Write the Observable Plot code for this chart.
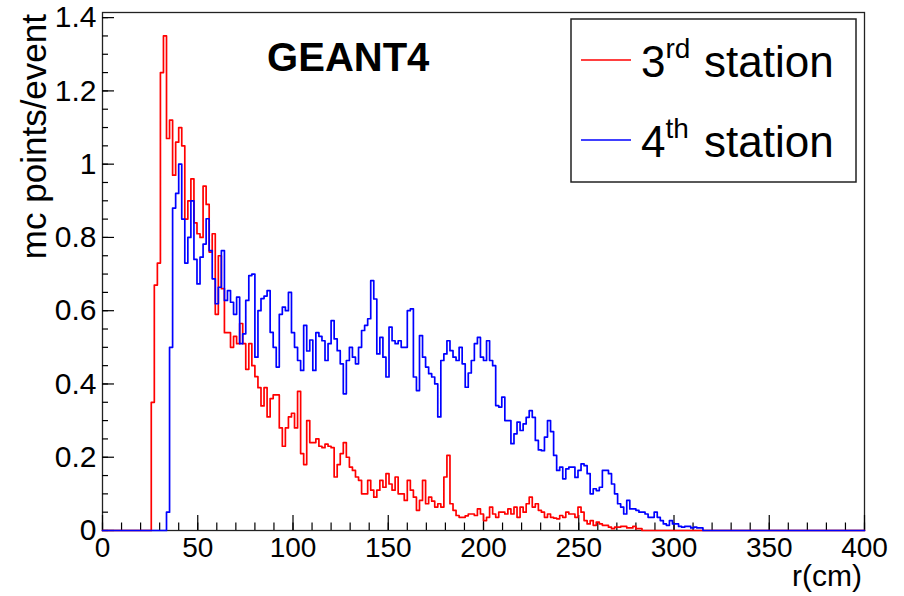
<!DOCTYPE html>
<html><head><meta charset="utf-8">
<script src="https://cdn.jsdelivr.net/npm/d3@7"></script>
<script src="https://cdn.jsdelivr.net/npm/@observablehq/plot@0.6"></script>
<style>
body{margin:0;background:#fff;}
#chart{width:904px;height:596px;}
</style>
</head><body><div id="chart"></div>
<script>
// Histogram binning (cm)
const binWidth = 1.6;
const rMax = 400;

// 3rd station: bin contents starting at bin index 16 (r = 25.6 cm)
const station3FirstBin = 16;
const station3 = [
  0.35, 0.67, 0.73, 1.25, 1.35, 1.07, 1.12, 0.97, 1.06, 1.10,
  1.05, 0.85, 0.90, 0.96, 0.84, 0.81, 0.80, 0.94, 0.89, 0.76,
  0.81, 0.59, 0.75, 0.66, 0.54, 0.54, 0.50, 0.53, 0.51, 0.565,
  0.51, 0.44, 0.51, 0.45, 0.42, 0.39, 0.34, 0.39, 0.31, 0.36,
  0.37, 0.37, 0.28, 0.23, 0.28, 0.31, 0.32, 0.28, 0.38, 0.21,
  0.18, 0.30, 0.24, 0.24, 0.25, 0.23, 0.226, 0.236, 0.23, 0.226,
  0.146, 0.18, 0.21, 0.24, 0.20, 0.173, 0.164, 0.146, 0.137, 0.10,
  0.10, 0.137, 0.11, 0.091, 0.11, 0.137, 0.118, 0.155, 0.127, 0.11,
  0.146, 0.10, 0.10, 0.082, 0.137, 0.11, 0.091, 0.055, 0.082, 0.137,
  0.073, 0.091, 0.08, 0.064, 0.073, 0.064, 0.146, 0.205, 0.073, 0.055,
  0.041, 0.036, 0.036, 0.04, 0.045, 0.045, 0.041, 0.059, 0.045, 0.027,
  0.036, 0.064, 0.045, 0.036, 0.05, 0.05, 0.045, 0.059, 0.045, 0.064,
  0.036, 0.064, 0.05, 0.073, 0.091, 0.064, 0.073, 0.055, 0.05, 0.036,
  0.045, 0.036, 0.034, 0.032, 0.041, 0.036, 0.05, 0.045, 0.045, 0.036,
  0.064, 0.05, 0.027, 0.018, 0.027, 0.014, 0.023, 0.018, 0.014, 0.014,
  0.009, 0.005, 0.009, 0.009, 0.011, 0.011, 0.007, 0.007, 0.011, 0.005,
  0.005
];

// 4th station: bin contents starting at bin index 21 (r = 33.6 cm)
const station4FirstBin = 21;
const station4 = [
  0.05, 0.50, 0.88, 0.92, 1.0, 0.85, 0.73, 0.80, 0.90, 0.74,
  0.673, 0.746, 0.782, 0.851, 0.764, 0.687, 0.619, 0.664, 0.764, 0.628,
  0.655, 0.623, 0.59, 0.637, 0.51, 0.537, 0.628, 0.696, 0.70, 0.473,
  0.60, 0.633, 0.64, 0.655, 0.541, 0.50, 0.446, 0.59, 0.61, 0.60,
  0.65, 0.54, 0.50, 0.464, 0.437, 0.56, 0.49, 0.52, 0.437, 0.54,
  0.53, 0.518, 0.464, 0.51, 0.573, 0.523, 0.491, 0.455, 0.373, 0.464,
  0.50, 0.473, 0.455, 0.50, 0.546, 0.56, 0.578, 0.682, 0.632, 0.482,
  0.527, 0.473, 0.419, 0.555, 0.518, 0.51, 0.518, 0.50, 0.50, 0.60,
  0.605, 0.419, 0.382, 0.532, 0.473, 0.446, 0.428, 0.419, 0.40, 0.31,
  0.464, 0.482, 0.518, 0.491, 0.473, 0.464, 0.50, 0.455, 0.391, 0.43,
  0.464, 0.51, 0.527, 0.473, 0.464, 0.518, 0.464, 0.45, 0.341, 0.337,
  0.364, 0.30, 0.30, 0.237, 0.264, 0.296, 0.273, 0.291, 0.309, 0.327,
  0.309, 0.246, 0.22, 0.218, 0.255, 0.30, 0.27, 0.205, 0.164, 0.173,
  0.141, 0.168, 0.173, 0.173, 0.145, 0.164, 0.182, 0.177, 0.155, 0.10,
  0.114, 0.109, 0.118, 0.164, 0.164, 0.155, 0.127, 0.10, 0.073, 0.064,
  0.045, 0.082, 0.059, 0.059, 0.055, 0.05, 0.05, 0.045, 0.036, 0.036,
  0.05, 0.036, 0.027, 0.018, 0.014, 0.027, 0.018, 0.018, 0.011, 0.009,
  0.011, 0.011, 0.007, 0.009, 0.007, 0.007
];

const xTickLabels = [0, 50, 100, 150, 200, 250, 300, 350, 400];
const yTickLabels = [0, 0.2, 0.4, 0.6, 0.8, 1.0, 1.2, 1.4];
const xMinorStep = 10;
const yMinorStep = 0.05;
const seriesNames = ["3rd station", "4th station"];
const seriesColors = ["#ff0000", "#0000ff"];

// Build step outlines (ROOT-style histogram, including empty bins on the baseline)
function steps(values, firstBin) {
  const n = Math.round(rMax / binWidth);
  const pts = [];
  for (let i = 0; i < n; i++) {
    const j = i - firstBin;
    const v = (j >= 0 && j < values.length) ? values[j] : 0;
    pts.push({r: i * binWidth, v});
  }
  pts.push({r: rMax, v: pts[pts.length - 1].v});
  return pts;
}
const steps3 = steps(station3, station3FirstBin);
const steps4 = steps(station4, station4FirstBin);

const W = 904, H = 596, mL = 102, mR = 40, mT = 12, mB = 66;
const frameW = W - mL - mR, frameH = H - mT - mB;
const xMinor = d3.range(0, rMax + 0.001, xMinorStep);
const yMinor = d3.range(0, 1.4 + 0.0001, yMinorStep);

const font = "'Liberation Sans', Arial, Helvetica, sans-serif";

const chart = Plot.plot({
  width: W, height: H,
  marginLeft: mL, marginRight: mR, marginTop: mT, marginBottom: mB,
  x: {domain: [0, rMax], label: null},
  y: {domain: [0, 1.414], label: null},
  style: {fontFamily: font, fontSize: "28px", color: "black", background: "white", overflow: "visible"},
  marks: [
    Plot.frame({stroke: "#222", strokeWidth: 1.3}),
    Plot.axisX(xTickLabels, {tickSize: 0, tickPadding: 7, fontSize: 28, label: null}),
    Plot.axisY(yTickLabels, {tickSize: 0, tickPadding: 6, fontSize: 30, label: null,
      tickFormat: d => String(+d.toFixed(1))}),
    Plot.tickX(xMinor, {x: d => d, insetTop: frameH - 7.5, stroke: "black", strokeWidth: 1.2}),
    Plot.tickX(xTickLabels, {x: d => d, insetTop: frameH - 15, stroke: "black", strokeWidth: 1.2}),
    Plot.tickY(yMinor, {y: d => d, insetRight: frameW - 6, stroke: "black", strokeWidth: 1.2}),
    Plot.tickY(yTickLabels, {y: d => d, insetRight: frameW - 12, stroke: "black", strokeWidth: 1.2}),
    Plot.line(steps3, {x: "r", y: "v", curve: "step-after", stroke: seriesColors[0], strokeWidth: 1.7}),
    Plot.line(steps4, {x: "r", y: "v", curve: "step-after", stroke: seriesColors[1], strokeWidth: 1.7}),
    Plot.text([{t: "GEANT4", r: 129, v: 1.29}], {x: "r", y: "v", text: "t", fontSize: 40, fontWeight: "bold",
      textAnchor: "middle", lineAnchor: "middle", fill: "black"})
  ]
});
document.getElementById("chart").appendChild(chart);

const svg = d3.select(chart);
// Axis titles
svg.append("text").attr("x", 862).attr("y", 586).attr("text-anchor", "end")
  .attr("font-family", font).attr("font-size", 30).attr("fill", "black").text("r(cm)");
svg.append("text").attr("transform", "translate(46,14) rotate(-90)").attr("text-anchor", "end")
  .attr("font-family", font).attr("font-size", 35).attr("fill", "black").text("mc points/event");

// Legend
const lg = svg.append("g").attr("font-family", font).attr("fill", "black").attr("text-anchor", "start");
lg.append("rect").attr("x", 571).attr("y", 19).attr("width", 285).attr("height", 163)
  .attr("fill", "white").attr("stroke", "#222").attr("stroke-width", 1.5);
const rows = [
  {num: "3", sup: "rd", y: 77, ly: 60, color: seriesColors[0]},
  {num: "4", sup: "th", y: 157, ly: 140, color: seriesColors[1]}
];
rows.forEach(d => {
  lg.append("line").attr("x1", 581).attr("x2", 631).attr("y1", d.ly).attr("y2", d.ly)
    .attr("stroke", d.color).attr("stroke-width", 1.5);
  const t = lg.append("text").attr("x", 641).attr("y", d.y).attr("font-size", 44).attr("text-anchor", "start");
  t.append("tspan").text(d.num);
  t.append("tspan").attr("dy", -19).attr("font-size", 28).text(d.sup);
  lg.append("text").attr("x", 704).attr("y", d.y).attr("font-size", 44).attr("text-anchor", "start").text("station");
});
</script>
</body></html>
